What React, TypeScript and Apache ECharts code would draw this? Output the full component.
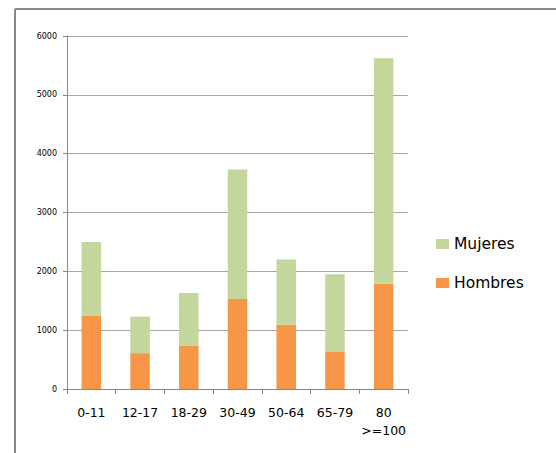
import React, { useEffect, useRef } from "react";
import * as echarts from "echarts";

const categories = ["0-11", "12-17", "18-29", "30-49", "50-64", "65-79", "80\n>=100"];
const hombres = [1250, 610, 740, 1530, 1090, 640, 1790];
const mujeres = [1250, 620, 890, 2200, 1110, 1310, 3830];
const yTicks = { min: 0, max: 6000, interval: 1000 };

export default function App() {
  const ref = useRef<HTMLDivElement>(null);
  useEffect(() => {
    if (!ref.current) return;
    const chart = echarts.init(ref.current, null, { renderer: "svg" });
    chart.setOption({
      animation: false,
      backgroundColor: "#ffffff",
      textStyle: { fontFamily: "DejaVu Sans" },
      grid: { left: 67, right: 148, top: 36, bottom: 64 },
      legend: {
        data: ["Mujeres", "Hombres"],
        orient: "vertical",
        left: 431,
        top: 231,
        itemWidth: 13,
        itemHeight: 10,
        itemGap: 23,
        itemTextGap: 4,
        icon: "rect",
        textStyle: { fontSize: 15.5, color: "#000", fontFamily: "DejaVu Sans" },
      },
      xAxis: {
        type: "category",
        data: categories,
        axisLine: { lineStyle: { color: "#888", width: 1 } },
        axisTick: { show: true, alignWithLabel: false, length: 5, lineStyle: { color: "#888" } },
        axisLabel: { color: "#000", fontSize: 12.5, margin: 14, lineHeight: 18, interval: 0 },
      },
      yAxis: {
        type: "value",
        min: yTicks.min,
        max: yTicks.max,
        interval: yTicks.interval,
        axisLine: { show: true, lineStyle: { color: "#888", width: 1 } },
        axisTick: { show: true, length: 4, lineStyle: { color: "#888" } },
        axisLabel: { color: "#000", fontSize: 8, margin: 10, formatter: (v: number) => String(v) },
        splitLine: { lineStyle: { color: "#a6a6a6", width: 1 } },
      },
      series: [
        {
          name: "Hombres",
          type: "bar",
          stack: "total",
          data: hombres,
          barWidth: "40%",
          itemStyle: { color: "#F79646" },
        },
        {
          name: "Mujeres",
          type: "bar",
          stack: "total",
          data: mujeres,
          barWidth: "40%",
          itemStyle: { color: "#C3D69B" },
        },
      ],
      graphic: [
        { type: "line", shape: { x1: 15, y1: 9, x2: 15, y2: 453 }, style: { stroke: "#888", lineWidth: 2 } },
        { type: "line", shape: { x1: 15, y1: 9, x2: 556, y2: 9 }, style: { stroke: "#888", lineWidth: 2 } },
      ],
    });
    return () => chart.dispose();
  }, []);
  return <div ref={ref} style={{ position: "fixed", left: 0, top: 0, width: 556, height: 453 }} />;
}
